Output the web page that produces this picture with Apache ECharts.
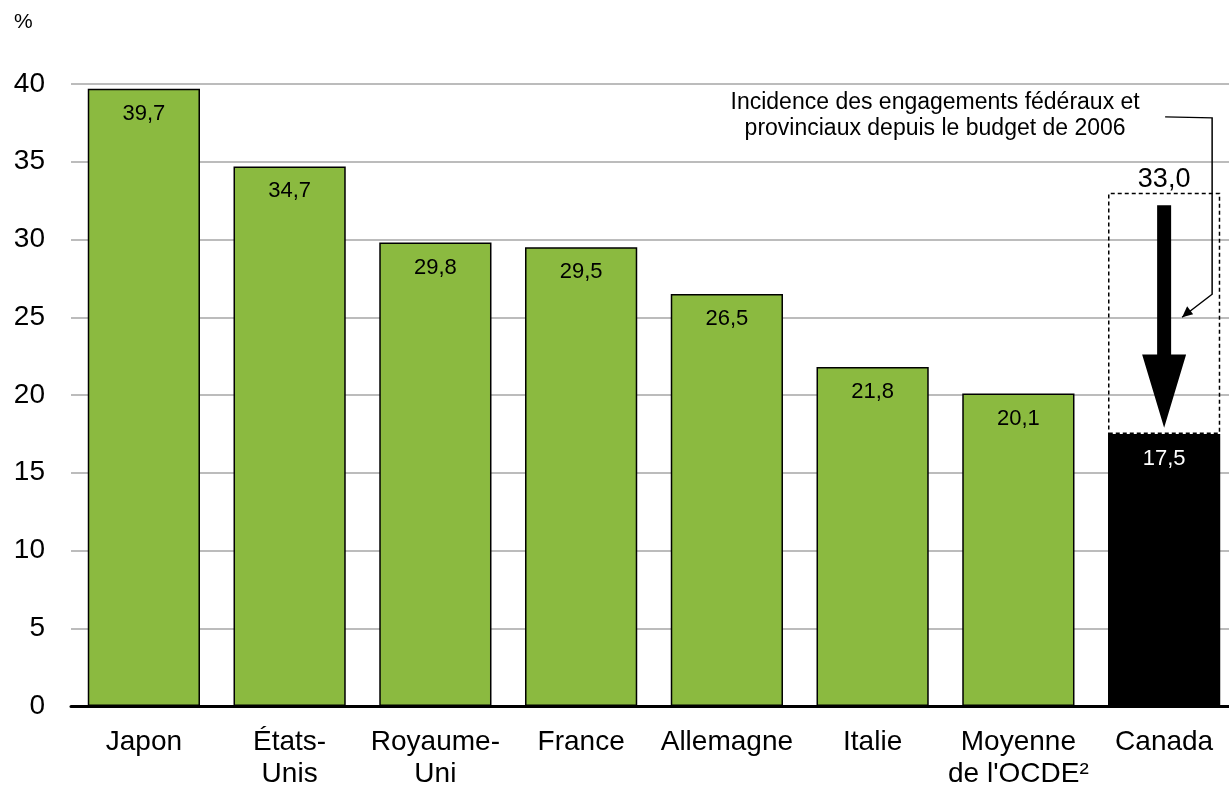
<!DOCTYPE html>
<html>
<head>
<meta charset="utf-8">
<script src="https://cdn.jsdelivr.net/npm/echarts@6/dist/echarts.min.js"></script>
<style>
  html, body { margin: 0; padding: 0; background: #fff; }
  #chart { width: 1229px; height: 785px; }
</style>
</head>
<body>
<div id="chart"></div>
<script>
var categories = ['Japon', 'États-\nUnis', 'Royaume-\nUni', 'France', 'Allemagne', 'Italie', 'Moyenne\nde l\'OCDE²', 'Canada'];
var values = [39.7, 34.7, 29.8, 29.5, 26.5, 21.8, 20.1, 17.5];
var canadaBefore = 33.0;   // avant les engagements depuis 2006
var yTicks = { min: 0, max: 40, interval: 5 };
// fleche : haut de la tige, base de la pointe, pointe (en %)
var arrowLevels = [32.2, 22.6, 17.9];
var calloutText = 'Incidence des engagements fédéraux et\nprovinciaux depuis le budget de 2006';

var green = '#8BBA40';
var font = 'Liberation Sans, Arial, sans-serif';
var last = categories.length - 1;

function fmt(v) { return v.toFixed(1).replace('.', ','); }

var barData = values.map(function (v, i) {
    var item = { value: v };
    if (i === last) {
        item.itemStyle = { color: '#000' };
        item.label = { color: '#fff' };
    }
    return item;
});
var gapData = values.map(function (v, i) {
    return i === last ? canadaBefore - v : null;
});

var chart = echarts.init(document.getElementById('chart'));
var option = {
    animation: false,
    textStyle: { fontFamily: font },
    grid: { left: 71, top: 84, width: 1166, height: 622, outerBoundsMode: 'none', containLabel: false },
    xAxis: {
        type: 'category',
        data: categories,
        axisLine: { lineStyle: { color: '#000', width: 3 } },
        axisTick: { show: false },
        axisLabel: { color: '#000', fontSize: 28, lineHeight: 32, margin: 20, fontFamily: font, interval: 0 }
    },
    yAxis: {
        type: 'value',
        min: yTicks.min, max: yTicks.max, interval: yTicks.interval,
        axisLine: { show: false },
        axisTick: { show: false },
        splitLine: { lineStyle: { color: '#a6a6a6', width: 1.5 } },
        axisLabel: { color: '#000', fontSize: 28, margin: 26, fontFamily: font }
    },
    series: [{
        name: 'valeur',
        type: 'bar',
        stack: 'total',
        barCategoryGap: '23%',
        data: barData,
        itemStyle: { color: green, borderColor: '#000', borderWidth: 1.5 },
        label: {
            show: true, position: 'insideTop', distance: 14,
            fontSize: 22, color: '#000', fontFamily: font,
            formatter: function (p) { return fmt(p.value); }
        }
    }, {
        name: 'engagements',
        type: 'bar',
        stack: 'total',
        data: gapData,
        itemStyle: { color: 'rgba(0,0,0,0)', borderColor: '#000', borderWidth: 1.5, borderType: [4, 3] },
        label: {
            show: true, position: 'top', distance: 0,
            fontSize: 27, color: '#000', fontFamily: font,
            formatter: function () { return fmt(canadaBefore); }
        }
    }]
};
chart.setOption(option);

// fleche et renvoi, places avec les echelles du graphique
var cat = categories[last];
var pTop = chart.convertToPixel({ seriesIndex: 0 }, [cat, arrowLevels[0]]);
var pBase = chart.convertToPixel({ seriesIndex: 0 }, [cat, arrowLevels[1]]);
var pTip = chart.convertToPixel({ seriesIndex: 0 }, [cat, arrowLevels[2]]);
var cx = pTip[0];
var shaft = 7, head = 22;
var p25 = chart.convertToPixel({ seriesIndex: 0 }, [cat, 25]);
var p37 = chart.convertToPixel({ seriesIndex: 0 }, [cat, 37.5]);
var bendX = cx + 48;
var targetX = cx + 18;

chart.setOption({
    graphic: [{
        type: 'text', left: 14, top: 12,
        style: { text: '%', fontSize: 21, fill: '#000', fontFamily: font }
    }, {
        type: 'polygon',
        shape: { points: [
            [cx - shaft, pTop[1]], [cx + shaft, pTop[1]], [cx + shaft, pBase[1]],
            [cx + head, pBase[1]], [cx, pTip[1]], [cx - head, pBase[1]],
            [cx - shaft, pBase[1]]
        ] },
        style: { fill: '#000' }
    }, {
        type: 'text',
        x: cx - 229, y: p37[1] - 33,
        style: { text: calloutText, fontSize: 23, lineHeight: 26, fill: '#000', fontFamily: font, align: 'center', verticalAlign: 'top' }
    }, {
        type: 'polyline',
        shape: { points: [[cx + 1, p37[1] - 6], [bendX, p37[1] - 5], [bendX, p25[1] - 23], [targetX, p25[1]]] },
        style: { stroke: '#000', lineWidth: 1.5, fill: null }
    }, {
        type: 'polygon',
        shape: { points: [[targetX, p25[1]], [targetX + 5, p25[1] - 11], [targetX + 11, p25[1] - 3]] },
        style: { fill: '#000' }
    }]
});
</script>
</body>
</html>
